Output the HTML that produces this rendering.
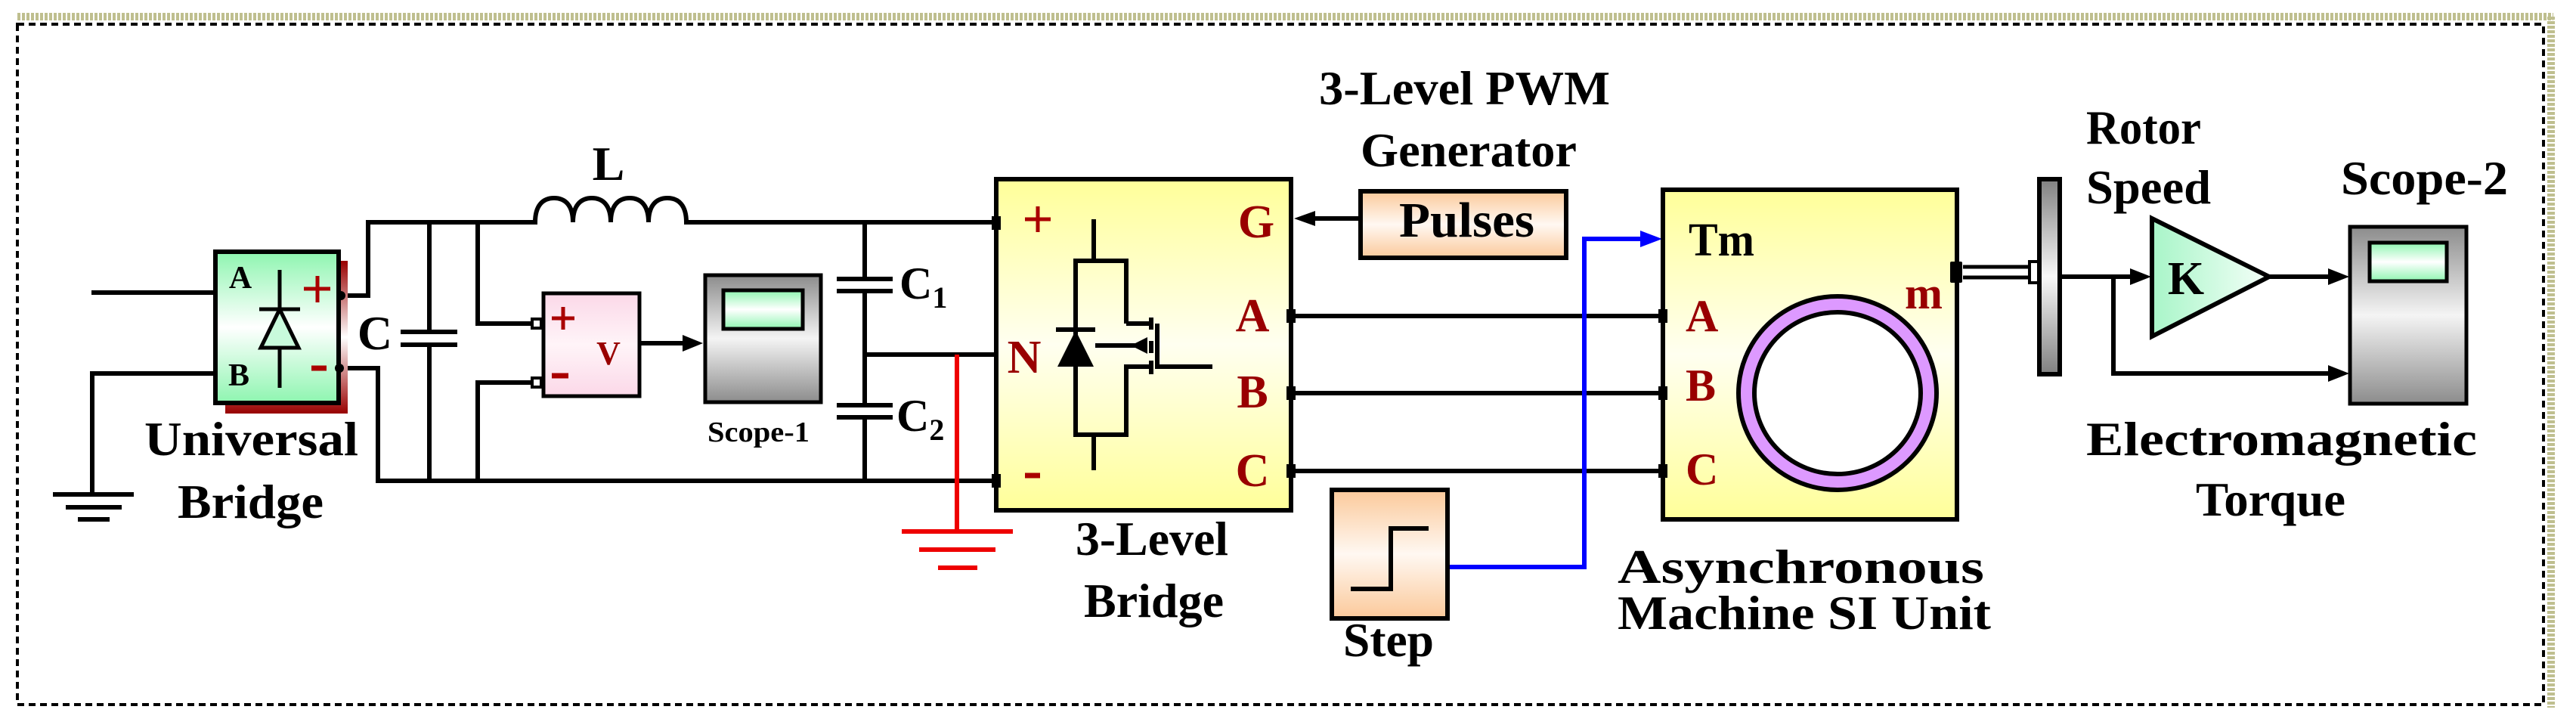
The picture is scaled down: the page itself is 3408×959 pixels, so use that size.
<!DOCTYPE html>
<html><head><meta charset="utf-8"><style>
html,body{margin:0;padding:0;background:#fff}
svg{display:block}
text{font-family:"Liberation Serif","Times New Roman",serif;font-weight:bold}
</style></head><body>
<svg width="3408" height="959" viewBox="0 0 3408 959" xmlns="http://www.w3.org/2000/svg">
<defs>
<linearGradient id="gGreen" x1="0" y1="0" x2="0" y2="1"><stop offset="0" stop-color="#8ef5b0"/><stop offset="0.5" stop-color="#ffffff"/><stop offset="1" stop-color="#8ef5b0"/></linearGradient>
<linearGradient id="gRed" x1="0" y1="0" x2="0" y2="1"><stop offset="0" stop-color="#990000"/><stop offset="0.5" stop-color="#ffffff"/><stop offset="1" stop-color="#990000"/></linearGradient>
<linearGradient id="gPink" x1="0" y1="0" x2="0" y2="1"><stop offset="0" stop-color="#fbd8e8"/><stop offset="0.5" stop-color="#fff4f8"/><stop offset="1" stop-color="#fbd8e8"/></linearGradient>
<linearGradient id="gGray" x1="0" y1="0" x2="0" y2="1"><stop offset="0" stop-color="#8c8c8c"/><stop offset="0.5" stop-color="#f4f4f4"/><stop offset="1" stop-color="#8c8c8c"/></linearGradient>
<linearGradient id="gGrayH" x1="0" y1="0" x2="0" y2="1"><stop offset="0" stop-color="#808080"/><stop offset="0.5" stop-color="#f8f8f8"/><stop offset="1" stop-color="#808080"/></linearGradient>
<linearGradient id="gYel" x1="0" y1="0" x2="0" y2="1"><stop offset="0" stop-color="#ffff99"/><stop offset="0.5" stop-color="#fffff0"/><stop offset="1" stop-color="#ffff99"/></linearGradient>
<linearGradient id="gPeach" x1="0" y1="0" x2="0" y2="1"><stop offset="0" stop-color="#fbc99a"/><stop offset="0.5" stop-color="#fff8f2"/><stop offset="1" stop-color="#fbc99a"/></linearGradient>
<linearGradient id="gK" x1="0" y1="0" x2="1" y2="0"><stop offset="0" stop-color="#a8f5c8"/><stop offset="1" stop-color="#f4fff8"/></linearGradient>
</defs>
<line x1="23" y1="22" x2="3378" y2="22" stroke="#bfbf8f" stroke-width="10" stroke-dasharray="4 2"/>
<line x1="3375" y1="22" x2="3375" y2="936" stroke="#bfbf8f" stroke-width="10" stroke-dasharray="4 2"/>
<rect x="23" y="32" width="3342" height="900" fill="none" stroke="#000" stroke-width="4" stroke-dasharray="9 6"/>

<g stroke="#000" stroke-width="6" fill="none" stroke-linecap="square">
<path d="M124 387 H285"/>
<path d="M285 494 H122 V654"/>
<path d="M73 654 H174 M90 671 H158 M106 687 H142"/>
<path d="M451 391 H487 V294 H708"/>
<path d="M708 294 c0-22 10-32 25-32 s25 10 25 32 c0-22 10-32 25-32 s25 10 25 32 c0-22 10-32 25-32 s25 10 25 32 c0-22 10-32 25-32 s25 10 25 32"/>
<path d="M908 294 H1318"/>
<path d="M449 487 H500 V636 H1318"/>
<path d="M568 294 V439 M568 456 V636 M533 439 H602 M533 456 H602"/>
<path d="M632 294 V428 H706 M706 506 H632 V636"/>
<path d="M1144 294 V369 M1144 385 V536 M1144 552 V636 M1110 369 H1178 M1110 385 H1178 M1110 536 H1178 M1110 552 H1178"/>
<path d="M1144 469 H1318"/>
<path d="M846 454 H905"/>
<path d="M1708 418 H2200 M1708 520 H2200 M1708 623 H2200"/>
<path d="M1800 289 H1735"/>
<path d="M2276 418 H2350 M2248 529 H2300 M2276 618 H2346"/>
<path d="M2725 366 H2822 M2796 366 V494 H3085 M3002 366 H3085"/>
</g>
<g fill="#000">
<polygon points="930,454 903,443 903,465"/>
<polygon points="1712,289 1740,279 1740,299"/>
<polygon points="2846,366 2818,355 2818,377"/>
<polygon points="3108,366 3080,355 3080,377"/>
<polygon points="3108,494 3080,483 3080,505"/>
</g>
<g stroke="#ee0000" stroke-width="6" fill="none">
<path d="M1266 469 V703 M1193 703 H1340 M1216 727 H1317 M1241 751 H1293"/>
</g>
<path d="M1915 750 H2096 V316 H2172" stroke="#0000ff" stroke-width="6" fill="none"/>
<polygon points="2199,316 2170,305 2170,327" fill="#0000ff"/>

<rect x="298" y="345" width="162" height="202" fill="url(#gRed)"/>
<rect x="285" y="333" width="163" height="200" fill="url(#gGreen)" stroke="#000" stroke-width="6"/>
<path d="M370 357 V513 M343 409 H397" stroke="#000" stroke-width="5"/>
<polygon points="370,409 345,460 395,460" fill="#c8fadc" stroke="#000" stroke-width="5"/>
<circle cx="451" cy="391" r="6"/><circle cx="449" cy="487" r="6"/>
<text x="318" y="381" font-size="42" text-anchor="middle">A</text>
<text x="316" y="510" font-size="42" text-anchor="middle">B</text>
<path d="M402 382 H437 M420 365 V400" stroke="#aa0000" stroke-width="5"/>
<path d="M412 487 H432" stroke="#aa0000" stroke-width="7"/>
<text x="191" y="602" font-size="64" textLength="283" lengthAdjust="spacingAndGlyphs">Universal</text>
<text x="235" y="685" font-size="64" textLength="193" lengthAdjust="spacingAndGlyphs">Bridge</text>
<text x="496" y="462" font-size="64" text-anchor="middle">C</text>
<text x="805" y="238" font-size="64" text-anchor="middle">L</text>

<rect x="719" y="388" width="127" height="136" fill="url(#gPink)" stroke="#000" stroke-width="5"/>
<rect x="704" y="422" width="12" height="12" fill="#fff" stroke="#000" stroke-width="4"/>
<rect x="704" y="500" width="12" height="12" fill="#fff" stroke="#000" stroke-width="4"/>
<path d="M730 421 H760 M745 406 V436" stroke="#aa0000" stroke-width="5"/>
<path d="M730 497 H752" stroke="#aa0000" stroke-width="7"/>
<text x="805" y="482" font-size="44" text-anchor="middle" fill="#990000">V</text>

<rect x="933" y="364" width="153" height="168" fill="url(#gGray)" stroke="#000" stroke-width="5"/>
<rect x="957" y="384" width="105" height="51" fill="url(#gGreen)" stroke="#000" stroke-width="5"/>
<text x="936" y="584" font-size="38" textLength="135" lengthAdjust="spacingAndGlyphs">Scope-1</text>

<text x="1190" y="395" font-size="60">C<tspan font-size="40" dy="12">1</tspan></text>
<text x="1186" y="570" font-size="60">C<tspan font-size="40" dy="12">2</tspan></text>

<rect x="1318" y="237" width="390" height="438" fill="url(#gYel)" stroke="#000" stroke-width="6"/>
<g fill="#000">
<rect x="1312" y="286" width="12" height="18"/><rect x="1312" y="627" width="12" height="18"/>
<rect x="1702" y="409" width="12" height="18"/><rect x="1702" y="511" width="12" height="18"/><rect x="1702" y="614" width="12" height="18"/>
</g>
<g stroke="#000" stroke-width="6" fill="none">
<path d="M1447 290 V345 M1447 575 V622"/>
<path d="M1490 428 V345 H1423 V575 H1490 V485 H1523"/>
<path d="M1490 428 H1523"/>
<path d="M1523 420 V436 M1523 451 V467 M1523 477 V495"/>
<path d="M1531 428 V485 H1604"/>
<path d="M1449 457 H1510"/>
<path d="M1397 436 H1449"/>
</g>
<polygon points="1423,437 1399,485 1447,485" fill="#000"/>
<polygon points="1496,457 1518,446 1518,468" fill="#000"/>
<g fill="#990000" text-anchor="middle">
<text x="1662" y="314" font-size="62">G</text>
<text x="1657" y="438" font-size="62">A</text>
<text x="1657" y="539" font-size="62">B</text>
<text x="1657" y="643" font-size="62">C</text>
<text x="1355" y="493" font-size="62">N</text>
</g>
<path d="M1356 290 H1390 M1373 273 V307" stroke="#aa0000" stroke-width="5"/>
<path d="M1356 629 H1376" stroke="#aa0000" stroke-width="7"/>
<text x="1423" y="734" font-size="64" textLength="202" lengthAdjust="spacingAndGlyphs">3-Level</text>
<text x="1434" y="816" font-size="64" textLength="185" lengthAdjust="spacingAndGlyphs">Bridge</text>

<text x="1745" y="138" font-size="64" textLength="385" lengthAdjust="spacingAndGlyphs">3-Level PWM</text>
<text x="1800" y="220" font-size="64" textLength="286" lengthAdjust="spacingAndGlyphs">Generator</text>
<rect x="1800" y="253" width="272" height="88" fill="url(#gPeach)" stroke="#000" stroke-width="6"/>
<text x="1851" y="313" font-size="66" textLength="179" lengthAdjust="spacingAndGlyphs">Pulses</text>

<rect x="1762" y="648" width="153" height="170" fill="url(#gPeach)" stroke="#000" stroke-width="6"/>
<path d="M1787 779 H1840 V699 H1890" stroke="#000" stroke-width="6" fill="none"/>
<text x="1777" y="868" font-size="64" textLength="120" lengthAdjust="spacingAndGlyphs">Step</text>

<rect x="2200" y="251" width="389" height="436" fill="url(#gYel)" stroke="#000" stroke-width="6"/>
<g fill="#000"><rect x="2194" y="409" width="12" height="18"/><rect x="2194" y="511" width="12" height="18"/><rect x="2194" y="614" width="12" height="18"/></g>
<ellipse cx="2431" cy="520" rx="131" ry="128" fill="#dd99ff" stroke="#000" stroke-width="6"/>
<ellipse cx="2431" cy="520" rx="110" ry="107" fill="#fff" stroke="#000" stroke-width="6"/>
<text x="2234" y="338" font-size="62" textLength="87" lengthAdjust="spacingAndGlyphs">Tm</text>
<g fill="#990000" font-size="60">
<text x="2230" y="438">A</text><text x="2230" y="530">B</text><text x="2230" y="641">C</text>
<text x="2520" y="408">m</text>
</g>
<text x="2140" y="771" font-size="64" textLength="485" lengthAdjust="spacingAndGlyphs">Asynchronous</text>
<text x="2140" y="832" font-size="64" textLength="494" lengthAdjust="spacingAndGlyphs">Machine SI Unit</text>

<path d="M2597 353 H2686 M2597 367 H2686" stroke="#000" stroke-width="5"/>
<rect x="2580" y="346" width="16" height="28" fill="#000" rx="2"/>
<rect x="2685" y="346" width="12" height="28" fill="#fff" stroke="#000" stroke-width="4"/>
<rect x="2698" y="237" width="27" height="258" fill="url(#gGrayH)" stroke="#000" stroke-width="6"/>

<polygon points="2847,289 2847,445 3002,366" fill="url(#gK)" stroke="#000" stroke-width="6"/>
<text x="2892" y="389" font-size="62" text-anchor="middle">K</text>
<text x="2760" y="190" font-size="64" textLength="152" lengthAdjust="spacingAndGlyphs">Rotor</text>
<text x="2760" y="269" font-size="64" textLength="165" lengthAdjust="spacingAndGlyphs">Speed</text>

<rect x="3109" y="300" width="154" height="234" fill="url(#gGray)" stroke="#000" stroke-width="5"/>
<rect x="3135" y="321" width="102" height="51" fill="url(#gGreen)" stroke="#000" stroke-width="5"/>
<text x="3097" y="257" font-size="64" textLength="221" lengthAdjust="spacingAndGlyphs">Scope-2</text>
<text x="2760" y="602" font-size="64" textLength="517" lengthAdjust="spacingAndGlyphs">Electromagnetic</text>
<text x="2905" y="682" font-size="64" textLength="198" lengthAdjust="spacingAndGlyphs">Torque</text>
</svg>
</body></html>
